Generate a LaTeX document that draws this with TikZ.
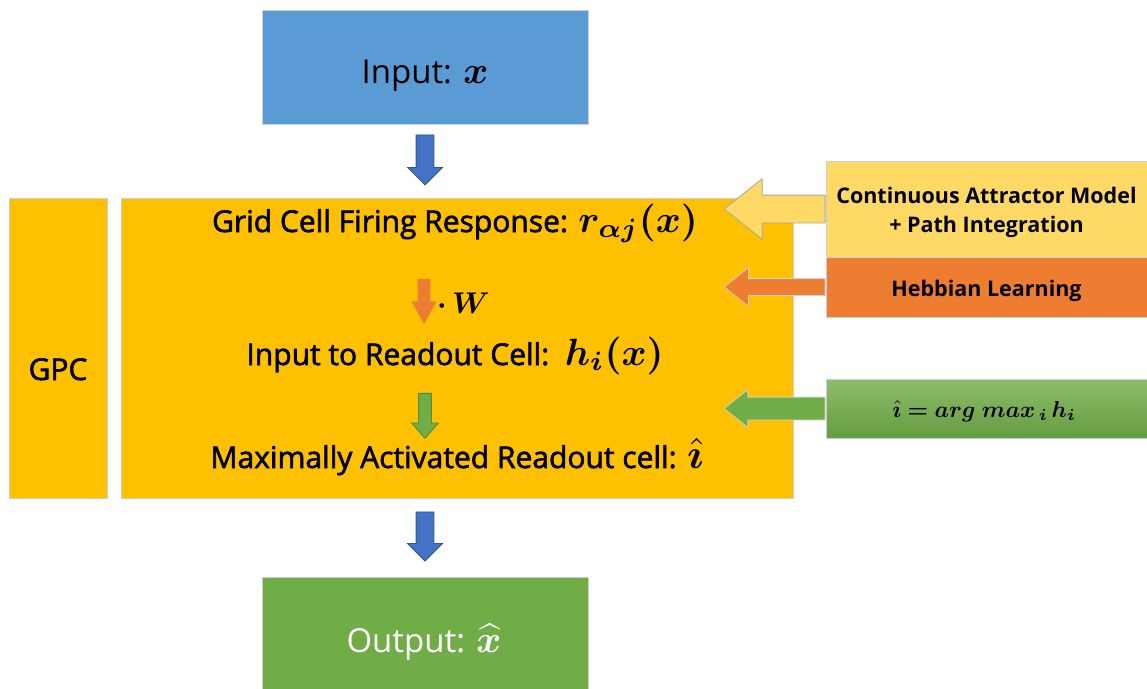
\documentclass[tikz,border=0pt]{standalone}
\usepackage{fontspec}
\setmainfont{Open Sans}
\newfontfamily\medfont{Open Sans}[FakeBold = 2]
\usepackage{bm}
\usetikzlibrary{shapes.arrows,calc}

\definecolor{inblue}{HTML}{5B9BD5}
\definecolor{arblue}{HTML}{4472C4}
\definecolor{arbluedark}{HTML}{2F5597}
\definecolor{gold}{HTML}{FFC000}
\definecolor{paleyellow}{HTML}{FFD966}
\definecolor{hebborange}{HTML}{ED7D31}
\definecolor{outgreen}{HTML}{70AD47}
\definecolor{boxline}{HTML}{CFCFCF}

% math drawn at 10pt and scaled up
\newcommand{\mathat}[2]{\scalebox{#1}{\fontsize{10}{12}\selectfont$\bm{#2}$}}

\tikzset{
	block/.style = {draw = boxline, line width = 1pt, inner sep = 0pt},
	fatarrow/.style = {single arrow, single arrow head indent = 0pt, line width = 0.8pt},
	bigtext/.style = {font = \fontsize{33}{38}\selectfont, anchor = base},
	midtext/.style = {font = \medfont\fontsize{30}{34}\selectfont, anchor = base},
	sidetext/.style = {font = \fontsize{21.5}{29}\selectfont\bfseries, anchor = base}
}

\begin{document}
\begin{tikzpicture}[x = 1pt, y = -1pt]

	\useasboundingbox (0, 0) rectangle (1147, 688);

	% Input and output
	
	\node [block, fill = inblue, minimum width = 326, minimum height = 114] (input) at (425, 67) {};
	\node [bigtext] (intext) at (425, 83) {Input: \mathat{3.8}{x}};
	
	\node [block, fill = outgreen, minimum width = 326, minimum height = 122] (output) at (425, 638) {};
	\node [bigtext, text = white] (outtext) at (424, 652) {Output: \mathat{3.8}{\widehat{x}}};
	
	% GPC blocks
	
	\node [block, fill = gold, minimum width = 98, minimum height = 300] (gpc) at (58, 348) {};
	\node [midtext] (gpctext) at (58, 380) {GPC};
	\node [block, fill = gold, minimum width = 672, minimum height = 300] (core) at (457, 348) {};
	
	\node [midtext] (firing) at (455, 232) {Grid Cell Firing Response: \mathat{3.8}{r_{\alpha j}(x)}};
	\node [midtext] (readin) at (455, 365) {Input to Readout Cell:\ \ \mathat{3.8}{h_i(x)}};
	\node [midtext] (winner) at (457, 468) {Maximally Activated Readout cell: \mathat{4.2}{\hat{\imath}}};
	\node [midtext, anchor = base west] (weight) at (434, 313) {\mathat{3}{\cdot\,W}};
	
	% Arrows between the layers
	
	\node [fatarrow, shape border rotate = 270, fill = arblue, draw = arbluedark, inner sep = 8.5pt, minimum width = 34pt, minimum height = 50pt, single arrow head extend = 8.5pt, single arrow tip angle = 90, anchor = tip] (down1) at ($(input.south |- core.north)+(0, -12)$) {};
	\node [fatarrow, shape border rotate = 270, fill = arblue, draw = arbluedark, inner sep = 8.5pt, minimum width = 34pt, minimum height = 49pt, single arrow head extend = 8.5pt, single arrow tip angle = 90, anchor = tip] (down2) at ($(output.north)+(0, -15)$) {};
	\node [fatarrow, shape border rotate = 270, fill = hebborange, draw = none, inner sep = 6pt, minimum width = 24pt, minimum height = 45pt, single arrow head extend = 6pt, single arrow tip angle = 57, anchor = tip] (down3) at (424, 325) {};
	\node [fatarrow, shape border rotate = 270, fill = outgreen, draw = outgreen!80!black, inner sep = 6pt, minimum width = 26pt, minimum height = 45pt, single arrow head extend = 7pt, single arrow tip angle = 82, anchor = tip] (down4) at (425, 439) {};
	
	% Side boxes
	
	\node [block, fill = paleyellow, minimum width = 321, minimum height = 96] (attractor) at (986.5, 209) {};
	\node [sidetext] (attrtext1) at (986.5, 203) {Continuous Attractor Model};
	\node [sidetext] (attrtext2) at (986.5, 232) {+ Path Integration};
	\node [block, fill = hebborange, minimum width = 321, minimum height = 60] (hebb) at (986.5, 287) {};
	\node [sidetext] (hebbtext) at (986.5, 296) {Hebbian Learning};
	\node [block, top color = outgreen!80!white, bottom color = outgreen!90!black, minimum width = 321, minimum height = 59] (argmax) at (986.5, 408.5) {};
	\node [sidetext] (argtext) at (984, 417) {\mathat{2.3}{\hat{\imath} = arg\; max\,_i\, h_i}};
	
	% Arrows into the GPC
	
	\node [fatarrow, shape border rotate = 180, fill = paleyellow, draw = boxline!80!black, inner sep = 13.5pt, minimum width = 60pt, minimum height = 101pt, single arrow head extend = 16.5pt, single arrow tip angle = 77, anchor = tail] (push1) at (attractor.west) {};
	\node [fatarrow, shape border rotate = 180, fill = hebborange, draw = boxline, inner sep = 8pt, minimum width = 38pt, minimum height = 101pt, single arrow head extend = 11pt, single arrow tip angle = 77, anchor = tail] (push2) at (hebb.west) {};
	\node [fatarrow, shape border rotate = 180, fill = outgreen, draw = boxline, inner sep = 11pt, minimum width = 37pt, minimum height = 101pt, single arrow head extend = 7.5pt, single arrow tip angle = 77, anchor = tail] (push3) at (argmax.west) {};

\end{tikzpicture}
\end{document}
